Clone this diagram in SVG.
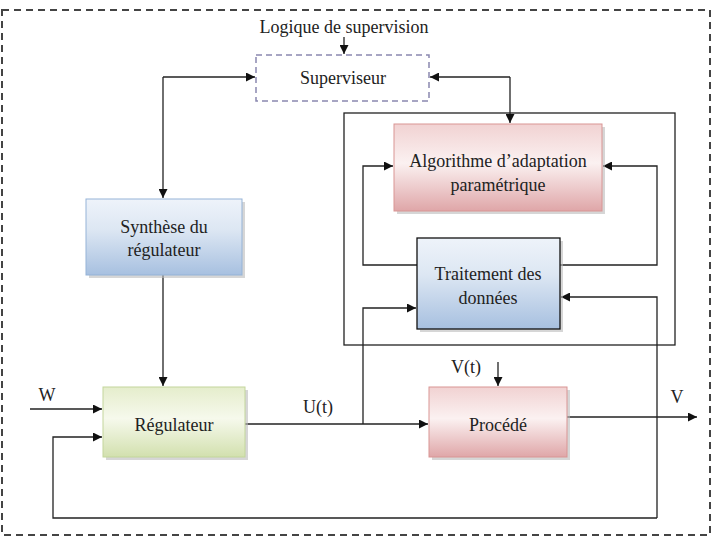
<svg xmlns="http://www.w3.org/2000/svg" width="713" height="538" viewBox="0 0 713 538">
<style>
text{font-family:"Liberation Serif","Times New Roman",serif;font-size:18px;fill:#222;text-anchor:middle}
.ln{fill:none;stroke:#222;stroke-width:1.3}
.sh{fill:#bbb;opacity:0.6}
</style>
<defs>
<marker id="ah" viewBox="0 0 10 10" refX="10" refY="5" markerWidth="9" markerHeight="9" markerUnits="userSpaceOnUse" orient="auto"><path d="M0,0 L10,5 L0,10 z" fill="#111"/></marker>
<linearGradient id="gBlue" x1="0" y1="0" x2="0" y2="1"><stop offset="0" stop-color="#eef3fa"/><stop offset="0.4" stop-color="#dde7f3"/><stop offset="1" stop-color="#a7c0e0"/></linearGradient>
<linearGradient id="gPink" x1="0" y1="0" x2="0" y2="1"><stop offset="0" stop-color="#f1d2d2"/><stop offset="0.45" stop-color="#fbf1f1"/><stop offset="1" stop-color="#dfa6a8"/></linearGradient>
<linearGradient id="gGreen" x1="0" y1="0" x2="0" y2="1"><stop offset="0" stop-color="#e5edcc"/><stop offset="0.45" stop-color="#f6f9ec"/><stop offset="1" stop-color="#d2e0ae"/></linearGradient>
</defs>
<rect x="2" y="10" width="708" height="525" fill="none" stroke="#444" stroke-width="2" stroke-dasharray="7,5"/>
<rect x="344" y="113" width="331" height="232" fill="none" stroke="#222" stroke-width="1.3"/>
<g id="connectors">
<path class="ln" d="M344,37 V54" marker-end="url(#ah)"/>
<path class="ln" d="M163,77 H255" marker-end="url(#ah)"/>
<path class="ln" d="M163,77 V198" marker-end="url(#ah)"/>
<path class="ln" d="M510,77 H430" marker-end="url(#ah)"/>
<path class="ln" d="M510,77 V123" marker-end="url(#ah)"/>
<path class="ln" d="M417,265 H363 V166 H393" marker-end="url(#ah)"/>
<path class="ln" d="M560,265 H657 V166 H603" marker-end="url(#ah)"/>
<path class="ln" d="M163,275 V386" marker-end="url(#ah)"/>
<path class="ln" d="M30,409 H102" marker-end="url(#ah)"/>
<path class="ln" d="M245,424 H428" marker-end="url(#ah)"/>
<path class="ln" d="M363,424 V308 H416" marker-end="url(#ah)"/>
<path class="ln" d="M498,362 V386" marker-end="url(#ah)"/>
<path class="ln" d="M567,417 H697" marker-end="url(#ah)"/>
<path class="ln" d="M657,518 V297 H561" marker-end="url(#ah)"/>
<path class="ln" d="M657,518 H53 V437 H102" marker-end="url(#ah)"/>
</g>
<text x="344" y="33">Logique de supervision</text>
<text x="47" y="401">W</text>
<text x="318" y="413">U(t)</text>
<text x="466" y="373">V(t)</text>
<text x="677" y="403">V</text>
<g id="superviseur">
<rect x="256" y="55" width="173" height="46" fill="#fff" stroke="#8a88b0" stroke-width="1.5" stroke-dasharray="6,4"/>
<text x="343" y="84">Superviseur</text>
</g>
<g id="synthese">
<rect class="sh" x="89" y="202" width="156" height="76"/>
<rect x="86" y="199" width="156" height="76" fill="url(#gBlue)" stroke="#95b3d7" stroke-width="1"/>
<text x="164" y="233">Synthèse du</text>
<text x="164" y="256">régulateur</text>
</g>
<g id="algorithme">
<rect class="sh" x="397" y="127" width="208" height="87"/>
<rect x="394" y="124" width="208" height="87" fill="url(#gPink)" stroke="#d99594" stroke-width="1"/>
<text x="498" y="167">Algorithme d’adaptation</text>
<text x="498" y="191">paramétrique</text>
</g>
<g id="traitement">
<rect class="sh" x="420" y="241" width="143" height="91"/>
<rect x="417" y="238" width="143" height="91" fill="url(#gBlue)" stroke="#111" stroke-width="1.3"/>
<text x="488" y="280">Traitement des</text>
<text x="488" y="304">données</text>
</g>
<g id="regulateur">
<rect class="sh" x="106" y="390" width="142" height="70"/>
<rect x="103" y="387" width="142" height="70" fill="url(#gGreen)" stroke="#c3d69b" stroke-width="1"/>
<text x="174" y="431">Régulateur</text>
</g>
<g id="procede">
<rect class="sh" x="432" y="390" width="138" height="70"/>
<rect x="429" y="387" width="138" height="70" fill="url(#gPink)" stroke="#d99594" stroke-width="1"/>
<text x="498" y="431">Procédé</text>
</g>
</svg>
